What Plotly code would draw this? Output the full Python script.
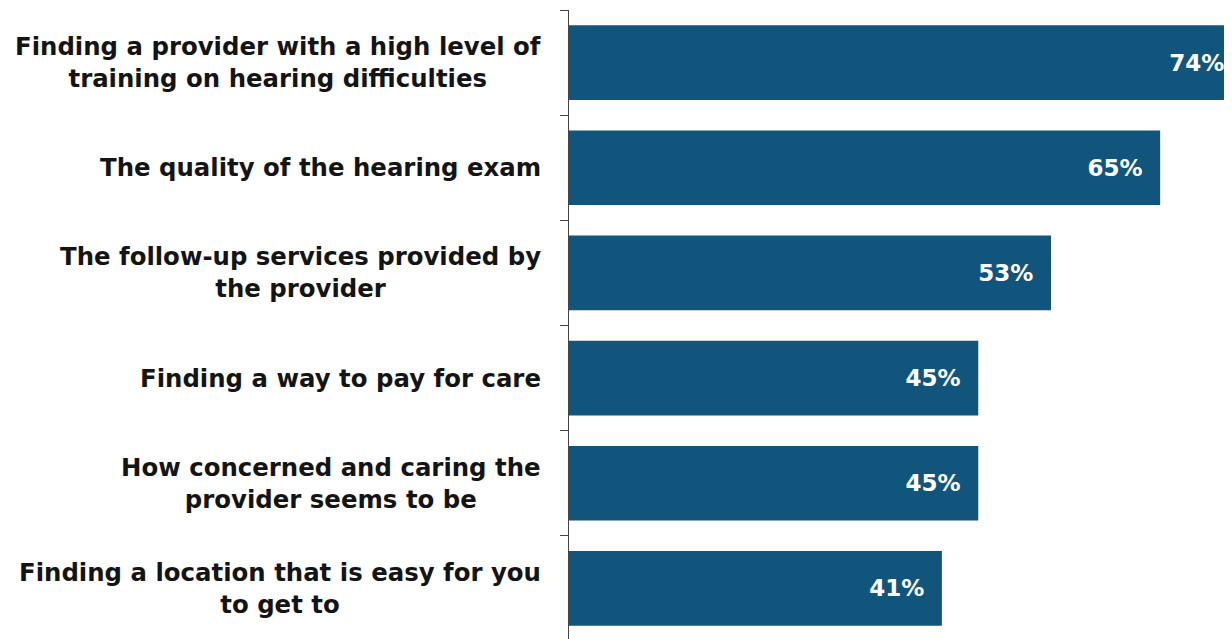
"""Horizontal bar chart: what matters most when choosing hearing care."""

import plotly.graph_objects as go

CATEGORIES = [
    "Finding a provider with a high level of<br>training on hearing difficulties",
    "The quality of the hearing exam",
    "The follow-up services provided by<br>the provider",
    "Finding a way to pay for care",
    "How concerned and caring the<br>provider seems to be",
    "Finding a location that is easy for you<br>to get to",
]
VALUES = [74, 65, 53, 45, 45, 41]

BAR_COLOR = "#12557c"
FONT = "DejaVu Sans"

fig = go.Figure(go.Bar(
    y=list(range(len(CATEGORIES))), x=VALUES, orientation="h",
    marker=dict(color=BAR_COLOR, line=dict(width=0)),
    text=[f"<b>{v}%</b>\u00a0\u00a0" for v in VALUES],
    textposition="inside", insidetextanchor="end",
    textfont=dict(family=FONT, size=23, color="white"),
    cliponaxis=True,
))

# подписи категорий слева, строки по центру
for i, label in enumerate(CATEGORIES):
    fig.add_annotation(
        text=f"<b>{label}</b>", xref="paper", x=0, yref="y", y=i,
        xanchor="right", yanchor="middle", align="center", xshift=-26,
        showarrow=False, font=dict(family=FONT, size=24.4, color="#141414"),
    )

# страница добавляет 8px отступа, поэтому фигура сдвинута
fig.update_layout(
    width=1224, height=633,
    margin=dict(l=561, r=0, t=2, b=0),
    plot_bgcolor="white", paper_bgcolor="white",
    showlegend=False, bargap=0.29,
    xaxis=dict(range=[0, 72.9], visible=False, fixedrange=True),
    yaxis=dict(
        type="category", autorange="reversed", showticklabels=False,
        showline=True, linecolor="#444", linewidth=1,
        ticks="outside", tickson="boundaries", ticklen=8, tickcolor="#444",
        showgrid=False, zeroline=False,
    ),
)

fig.write_html("out.html")
